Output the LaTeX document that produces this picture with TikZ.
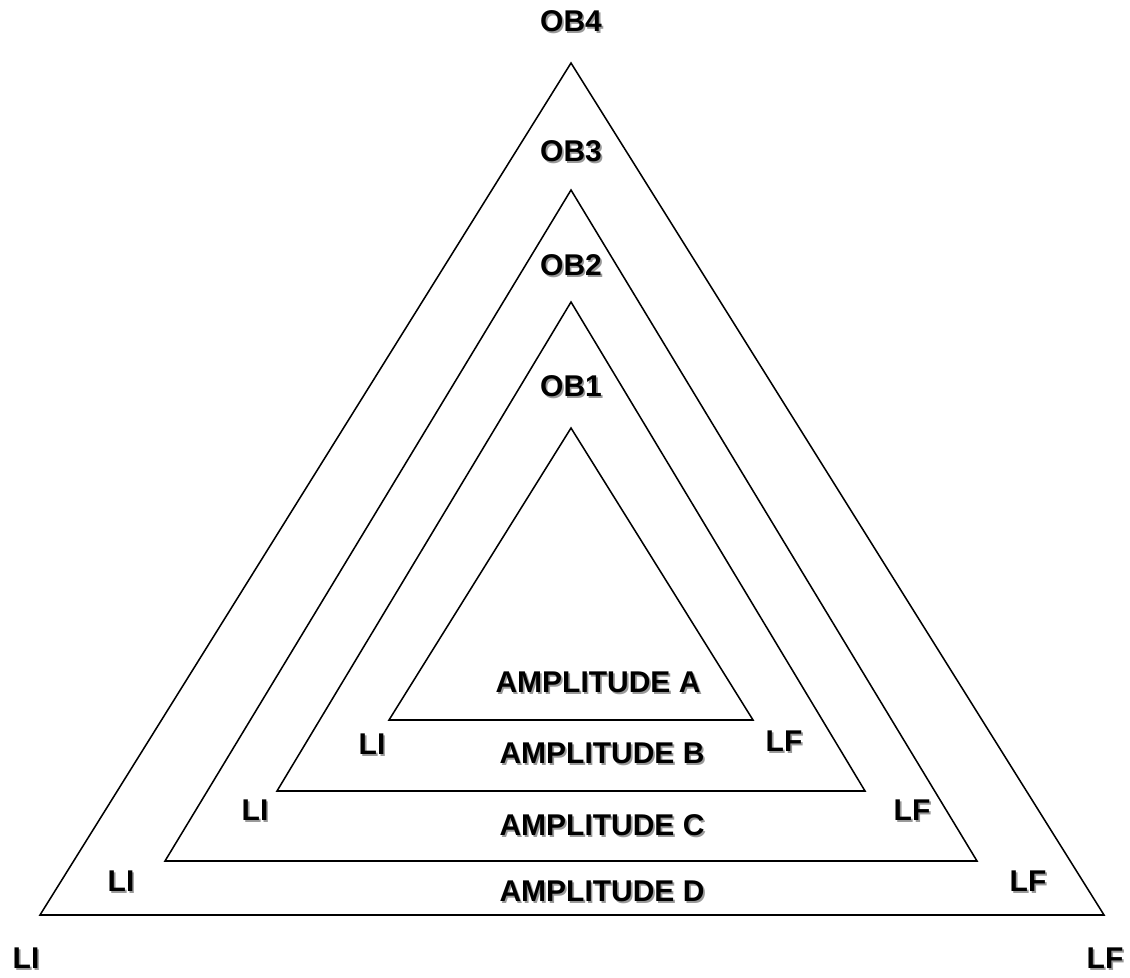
\documentclass[tikz,border=0pt]{standalone}
\usepackage{fontspec}
\setmainfont{Liberation Sans}
\usepackage{xcolor}
\usetikzlibrary{calc}

% bold caption with a soft grey drop shadow behind it
\newcommand{\shtxt}[1]{\rlap{\kern1.3pt\raisebox{-1.3pt}{\textcolor{black!40}{#1}}}#1}

\begin{document}
\begin{tikzpicture}[x=0.75pt,y=-0.75pt,
	tri/.style={line width=1.15pt, line join=miter},
	lbl/.style={font=\fontsize{22.5}{26}\selectfont\bfseries, inner sep=0pt}]
	\useasboundingbox (0,0) rectangle (1130,977);
	% nested triangles, outer to inner
	\coordinate (t4a) at (571, 63);  \coordinate (t4l) at (40, 915);  \coordinate (t4r) at (1104, 915);
	\coordinate (t3a) at (571,190);  \coordinate (t3l) at (165,861);  \coordinate (t3r) at (977, 861);
	\coordinate (t2a) at (571,302);  \coordinate (t2l) at (277,791);  \coordinate (t2r) at (865, 791);
	\coordinate (t1a) at (571,428);  \coordinate (t1l) at (389,720);  \coordinate (t1r) at (753, 720);
	\foreach \t in {t4,t3,t2,t1}
		\draw[tri] (\t a) -- (\t l) -- (\t r) -- cycle;
	% apex labels
	\node[lbl] (ob4) at (571, 22) {\shtxt{OB4}};
	\node[lbl] (ob3) at (571,152) {\shtxt{OB3}};
	\node[lbl] (ob2) at (571,266) {\shtxt{OB2}};
	\node[lbl] (ob1) at (571,387) {\shtxt{OB1}};
	% band labels
	\node[lbl] (ampa) at (598,683) {\shtxt{AMPLITUDE A}};
	\node[lbl] (ampb) at (602,754) {\shtxt{AMPLITUDE B}};
	\node[lbl] (ampc) at (602,826) {\shtxt{AMPLITUDE C}};
	\node[lbl] (ampd) at (602,892) {\shtxt{AMPLITUDE D}};
	% corner labels
	\node[lbl] (li1) at (372,745) {\shtxt{LI}};
	\node[lbl] (lf1) at (784,742) {\shtxt{LF}};
	\node[lbl] (li2) at (255,811) {\shtxt{LI}};
	\node[lbl] (lf2) at (912,811) {\shtxt{LF}};
	\node[lbl] (li3) at (121,882) {\shtxt{LI}};
	\node[lbl] (lf3) at (1028,882) {\shtxt{LF}};
	\node[lbl] (li4) at (26,959) {\shtxt{LI}};
	\node[lbl] (lf4) at (1105,959) {\shtxt{LF}};
\end{tikzpicture}
\end{document}
